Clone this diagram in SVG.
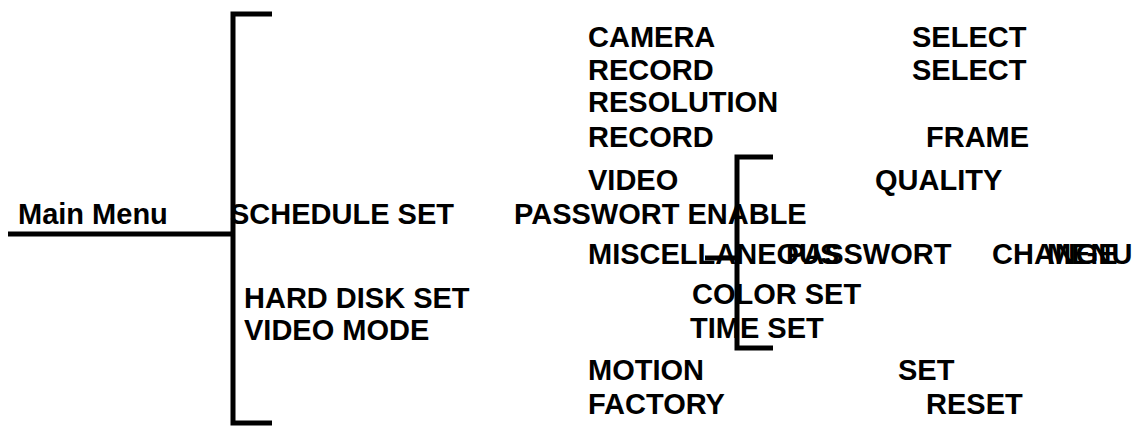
<svg xmlns="http://www.w3.org/2000/svg" width="1140" height="434" viewBox="0 0 1140 434">
<style>
text{font-family:"Liberation Sans",Arial,sans-serif;font-weight:bold;font-size:29px;fill:#000}
.l{stroke:#000;stroke-width:5;fill:none}
</style>
<rect width="1140" height="434" fill="#fff"/>
<g id="connectors">
<path class="l" d="M8 234H233M272 14H233V423H272"/>
<path class="l" d="M773 157H737V348H773M705 258H737"/>
</g>
<g id="main"><text x="18" y="224">Main Menu</text></g>
<g id="schedule"><text x="230" y="224">SCHEDULE SET</text></g>
<g id="hdd"><text x="244" y="308">HARD DISK SET</text></g>
<g id="vmode"><text x="244" y="340">VIDEO MODE</text></g>
<g id="camsel"><text x="588" y="47">CAMERA</text><text x="912" y="47">SELECT</text></g>
<g id="recsel"><text x="588" y="80">RECORD</text><text x="912" y="80">SELECT</text></g>
<g id="res"><text x="588" y="112">RESOLUTION</text></g>
<g id="recframe"><text x="588" y="147">RECORD</text><text x="926" y="147">FRAME</text></g>
<g id="vq"><text x="588" y="190">VIDEO</text><text x="875" y="190">QUALITY</text></g>
<g id="pwen"><text x="514" y="224">PASSWORT ENABLE</text></g>
<g id="misc"><text x="588" y="264">MISCELLANEOUS</text><text x="1047" y="264">MENU</text></g>
<g id="pwch"><text x="786" y="264">PASSWORT</text><text x="992" y="264">CHANGE</text></g>
<g id="color"><text x="692" y="304">COLOR SET</text></g>
<g id="time"><text x="690" y="338">TIME SET</text></g>
<g id="motion"><text x="588" y="380">MOTION</text><text x="898" y="380">SET</text></g>
<g id="factory"><text x="588" y="414">FACTORY</text><text x="926" y="414">RESET</text></g>
</svg>
